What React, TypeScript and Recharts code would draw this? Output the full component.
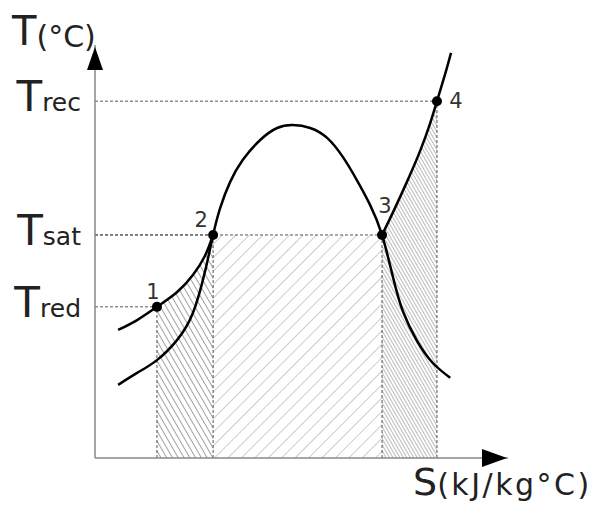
import React from "react";
import {
  Area,
  ComposedChart,
  Customized,
  Line,
  ReferenceDot,
  ReferenceLine,
  Scatter,
  XAxis,
  YAxis,
} from "recharts";

// state points on the T-S diagram
const pointNames = ["1", "2", "3", "4"];
const pointS = [15.0, 28.6, 69.5, 82.8];
const pointT = [36.6, 54.0, 54.0, 86.4];

// saturation dome
const domeS = [5.6, 10.2, 15.0, 19.9, 23.7, 26.6, 28.6, 30.3, 32.7, 35.8, 40.0, 44.1, 47.9, 52.1, 56.2, 60.0, 63.4, 66.6, 69.5, 72.2, 74.6, 78.0, 81.8, 86.0];
const domeT = [17.7, 20.6, 23.7, 28.6, 35.1, 45.0, 54.0, 60.5, 66.8, 72.2, 77.0, 79.9, 80.6, 79.9, 77.5, 72.9, 67.3, 61.3, 54.0, 43.6, 35.4, 28.3, 23.0, 19.4];

// isobar, liquid side and vapour side
const isoLeftS = [5.6, 10.2, 15.0, 19.9, 23.7, 26.6, 28.6];
const isoLeftT = [31.0, 33.4, 36.6, 40.2, 44.3, 48.9, 54.0];
const isoRightS = [69.5, 72.2, 75.5, 78.7, 81.1, 82.8, 84.7, 86.2];
const isoRightT = [54.0, 59.6, 66.8, 74.3, 80.9, 86.4, 92.7, 98.1];

// y tick subscripts (Tred, Tsat, Trec)
const tickSubs = ["red", "sat", "rec"];
const tickValues = [pointT[0], pointT[1], pointT[3]];

const zip = (s: number[], t: number[]) => s.map((v, i) => ({ s: v, t: t[i] }));

const dome = zip(domeS, domeT);
const isoLeft = zip(isoLeftS, isoLeftT);
const isoRight = zip(isoRightS, isoRightT);
const points = pointS.map((s, i) => ({ s, t: pointT[i], name: pointNames[i] }));

const areaA = isoLeft.filter((d) => d.s >= pointS[0]);
const areaB = [
  { s: pointS[1], t: pointT[1] },
  { s: pointS[2], t: pointT[2] },
];
const areaC = isoRight.filter((d) => d.s <= pointS[3]);

const FONT = "'DejaVu Sans', sans-serif";

// label offsets for each point number
const labelOffset: Record<string, [number, number]> = {
  "1": [-4, -8],
  "2": [-12, -8],
  "3": [3, -22],
  "4": [19, 7],
};

const renderPoint = (props: any) => {
  const { cx, cy, payload } = props;
  const [dx, dy] = labelOffset[payload.name];
  return (
    <g>
      <circle cx={cx} cy={cy} r={5} fill="#000" />
      <text x={cx + dx} y={cy + dy} textAnchor="middle" fontSize={21} fill="#333" fontFamily={FONT}>
        {payload.name}
      </text>
    </g>
  );
};

const renderTick = (props: any) => {
  const { x, y, payload } = props;
  const idx = tickValues.indexOf(payload.value);
  return (
    <text x={x - 6} y={y + 10} textAnchor="end" fill="#222" fontFamily={FONT}>
      <tspan fontSize={42}>T</tspan>
      <tspan fontSize={25}>{tickSubs[idx]}</tspan>
    </text>
  );
};

const UpArrow = (props: any) => (
  <polygon
    points={`${props.cx},${props.cy + 2} ${props.cx - 8},${props.cy + 25} ${props.cx + 8},${props.cy + 25}`}
    fill="#000"
  />
);

const RightArrow = (props: any) => (
  <polygon
    points={`${props.cx - 1},${props.cy} ${props.cx - 26},${props.cy - 9} ${props.cx - 26},${props.cy + 9}`}
    fill="#000"
  />
);

const AxisTitles = () => (
  <g fontFamily={FONT} fill="#222">
    <text x={12} y={45}>
      <tspan fontSize={40}>T</tspan>
      <tspan fontSize={30} dy={2}>(°C)</tspan>
    </text>
    <text x={413} y={495}>
      <tspan fontSize={38}>S</tspan>
      <tspan fontSize={30} letterSpacing={2.5}>(kJ/kg°C)</tspan>
    </text>
  </g>
);

const App = () => {
  return (
    <div style={{ position: "absolute", left: 0, top: 0, width: 600, height: 513, background: "#fff" }}>
      <ComposedChart width={600} height={513} margin={{ top: 45, right: 92, bottom: 0, left: 0 }}>
        <defs>
          <pattern id="hatchA" patternUnits="userSpaceOnUse" width="5" height="10" patternTransform="rotate(-30)">
            <line x1="0" y1="0" x2="0" y2="10" stroke="#444" strokeWidth="1" />
          </pattern>
          <pattern id="hatchB" patternUnits="userSpaceOnUse" width="9.5" height="10" patternTransform="rotate(45)">
            <line x1="0" y1="0" x2="0" y2="10" stroke="#999" strokeWidth="1" />
          </pattern>
          <pattern id="hatchC" patternUnits="userSpaceOnUse" width="3" height="10" patternTransform="rotate(-30)">
            <line x1="0" y1="0" x2="0" y2="10" stroke="#777" strokeWidth="1" />
          </pattern>
        </defs>
        <XAxis
          dataKey="s"
          type="number"
          domain={[0, 100]}
          allowDataOverflow
          height={55}
          tick={false}
          tickLine={false}
          axisLine={{ stroke: "#888", strokeWidth: 1.5 }}
        />
        <YAxis
          type="number"
          domain={[0, 100]}
          allowDataOverflow
          width={95}
          ticks={tickValues}
          tick={renderTick}
          tickLine={false}
          axisLine={{ stroke: "#888", strokeWidth: 1.5 }}
        />
        <Area data={areaA} dataKey="t" type="natural" stroke="none" fill="url(#hatchA)" fillOpacity={1} isAnimationActive={false} />
        <Area data={areaB} dataKey="t" type="linear" stroke="none" fill="url(#hatchB)" fillOpacity={1} isAnimationActive={false} />
        <Area data={areaC} dataKey="t" type="natural" stroke="none" fill="url(#hatchC)" fillOpacity={1} isAnimationActive={false} />
        {[0, 1, 2, 3].map((i) => (
          <ReferenceLine
            key={`h${i}`}
            segment={[
              { x: 0, y: pointT[i] },
              { x: pointS[i], y: pointT[i] },
            ]}
            stroke="#555"
            strokeDasharray="3 2"
            ifOverflow="visible"
          />
        ))}
        {[0, 1, 2, 3].map((i) => (
          <ReferenceLine
            key={`v${i}`}
            segment={[
              { x: pointS[i], y: 0 },
              { x: pointS[i], y: pointT[i] },
            ]}
            stroke="#555"
            strokeDasharray="3 2"
            ifOverflow="visible"
          />
        ))}
        <Line data={dome} dataKey="t" type="natural" stroke="#000" strokeWidth={2.5} dot={false} isAnimationActive={false} />
        <Line data={isoLeft} dataKey="t" type="natural" stroke="#000" strokeWidth={2.5} dot={false} isAnimationActive={false} />
        <Line data={isoRight} dataKey="t" type="natural" stroke="#000" strokeWidth={2.5} dot={false} isAnimationActive={false} />
        <Scatter data={points} dataKey="t" shape={renderPoint} isAnimationActive={false} />
        <ReferenceDot x={0} y={100} r={0} shape={UpArrow} ifOverflow="visible" />
        <ReferenceDot x={100} y={0} r={0} shape={RightArrow} ifOverflow="visible" />
        <Customized component={AxisTitles} />
      </ComposedChart>
    </div>
  );
};

export default App;
